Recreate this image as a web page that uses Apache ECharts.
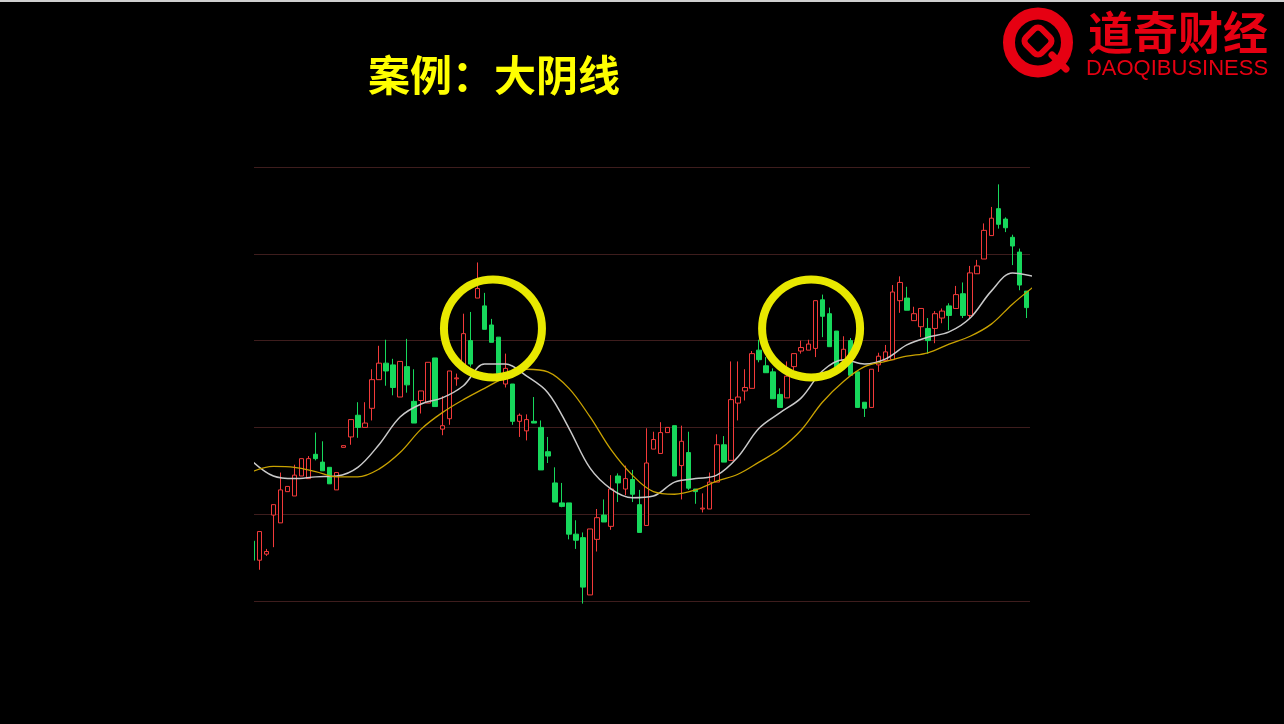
<!DOCTYPE html>
<html>
<head>
<meta charset="utf-8">
<title>案例：大阴线</title>
<script src="https://cdn.jsdelivr.net/npm/echarts@6/dist/echarts.min.js"></script>
<style>
  html, body { margin: 0; padding: 0; background: #000; }
  #chart { width: 1284px; height: 724px; }
</style>
</head>
<body>
<div id="chart"></div>
<script>
// Daily candles, day -1 (partly off the left edge) through day 109
const firstDay = -1;
const opens = [
  10.69, 10.47, 10.54, 10.99, 10.90, 11.26, 11.21, 11.44, 11.41, 11.69, 11.60,
  11.54, 11.28, 11.77, 11.89, 12.14, 12.00, 12.22, 12.55, 12.74, 12.72,
  12.35, 12.70, 12.30, 12.31, 12.28, 12.80, 11.98, 12.10, 12.56, 12.67,
  13.00, 13.49, 13.40, 13.18, 13.04, 12.50, 12.50, 12.07, 11.96, 12.07,
  12.00, 11.72, 11.36, 11.13, 11.13, 10.77, 10.73, 10.07, 10.71, 10.99,
  10.86, 11.44, 11.29, 11.40, 11.11, 10.87, 11.75, 11.70, 11.94, 12.02,
  11.56, 11.71, 11.29, 11.06, 11.06, 11.37, 11.80, 11.62, 12.28, 12.42,
  12.45, 12.89, 12.71, 12.64, 12.38, 12.34, 12.70, 12.88, 12.89, 12.91,
  13.47, 13.31, 13.11, 12.77, 13.00, 12.64, 12.29, 12.23, 12.72, 12.77,
  12.78, 13.46, 13.49, 13.23, 13.16, 13.14, 13.14, 13.26, 13.40, 13.37,
  13.54, 13.29, 13.77, 13.94, 14.21, 14.52, 14.40, 14.19, 14.02, 13.57
];
const closes = [
  10.47, 10.80, 10.57, 11.11, 11.28, 11.32, 11.45, 11.64, 11.64, 11.64, 11.50,
  11.35, 11.48, 11.79, 12.09, 12.00, 12.05, 12.55, 12.74, 12.65, 12.46,
  12.76, 12.49, 12.05, 12.42, 12.75, 12.24, 12.02, 12.65, 12.57, 13.08,
  12.73, 13.60, 13.13, 12.98, 12.62, 12.68, 12.07, 12.14, 12.09, 12.05,
  11.51, 11.67, 11.14, 11.09, 10.77, 10.70, 10.16, 10.83, 10.96, 10.91,
  11.29, 11.36, 11.41, 11.23, 10.79, 11.59, 11.86, 11.94, 12.00, 11.44,
  11.84, 11.30, 11.26, 11.07, 11.37, 11.80, 11.60, 12.32, 12.35, 12.46,
  12.85, 12.78, 12.63, 12.33, 12.23, 12.59, 12.85, 12.92, 12.96, 13.46,
  13.28, 12.93, 12.64, 12.90, 12.60, 12.23, 12.22, 12.67, 12.82, 12.87,
  13.56, 13.67, 13.35, 13.31, 13.37, 13.00, 13.31, 13.34, 13.29, 13.53,
  13.29, 13.78, 13.86, 14.27, 14.41, 14.34, 14.30, 14.09, 13.64, 13.38
];
const lows = [
  10.45, 10.36, 10.52, 10.62, 10.90, 11.26, 11.21, 11.44, 11.41, 11.62, 11.50,
  11.35, 11.28, 11.77, 11.80, 11.88, 12.00, 12.08, 12.55, 12.48, 12.37,
  12.35, 12.40, 12.05, 12.16, 12.28, 12.24, 11.91, 12.03, 12.48, 12.67,
  12.70, 13.49, 13.13, 12.98, 12.59, 12.46, 12.03, 11.89, 11.85, 12.05,
  11.51, 11.59, 11.14, 11.08, 10.71, 10.60, 9.97, 10.07, 10.57, 10.91,
  10.82, 11.14, 11.22, 11.14, 10.79, 10.87, 11.75, 11.70, 11.94, 11.44,
  11.17, 11.28, 11.12, 11.02, 11.06, 11.37, 11.60, 11.62, 12.08, 12.31,
  12.45, 12.75, 12.63, 12.33, 12.23, 12.34, 12.66, 12.85, 12.89, 12.81,
  13.04, 12.93, 12.64, 12.77, 12.60, 12.23, 12.12, 12.23, 12.64, 12.77,
  12.78, 13.32, 13.35, 13.23, 13.04, 12.85, 12.97, 13.20, 13.12, 13.37,
  13.26, 13.25, 13.77, 13.94, 14.21, 14.29, 14.25, 13.87, 13.58, 13.26
];
const highs = [
  10.73, 10.80, 10.60, 11.11, 11.48, 11.32, 11.57, 11.64, 11.67, 11.94, 11.84,
  11.54, 11.48, 11.79, 12.09, 12.29, 12.29, 12.67, 12.94, 13.01, 12.79,
  12.76, 13.02, 12.67, 12.42, 12.75, 12.80, 12.36, 12.65, 12.62, 13.31,
  13.33, 13.90, 13.55, 13.25, 13.04, 12.85, 12.50, 12.16, 12.15, 12.35,
  12.08, 11.89, 11.54, 11.36, 11.13, 10.93, 10.79, 10.83, 11.06, 11.17,
  11.45, 11.47, 11.56, 11.51, 11.28, 11.99, 11.95, 12.06, 12.00, 12.02,
  12.02, 11.95, 11.29, 11.24, 11.48, 11.92, 11.90, 12.76, 12.76, 12.67,
  12.88, 13.01, 12.81, 12.68, 12.45, 12.76, 12.85, 13.00, 13.01, 13.46,
  13.53, 13.38, 13.11, 13.05, 13.03, 12.64, 12.29, 12.67, 12.86, 12.95,
  13.64, 13.74, 13.62, 13.39, 13.37, 13.26, 13.34, 13.37, 13.43, 13.63,
  13.67, 13.86, 13.93, 14.35, 14.54, 14.80, 14.42, 14.22, 14.06, 13.57
];

// Moving averages, read every third trading day
const maDays = [
  -1, 2, 5, 8, 11, 14, 17, 20, 23, 26, 29, 32, 35, 38, 41, 44, 47, 50, 53,
  56, 59, 62, 65, 68, 71, 74, 77, 80, 83, 86, 89, 92, 95, 98, 101, 104, 107, 110
];
const maShort = [
  11.61, 11.44, 11.41, 11.43, 11.44, 11.54, 11.80, 12.12, 12.27, 12.34, 12.48,
  12.73, 12.73, 12.59, 12.40, 11.99, 11.53, 11.29, 11.19, 11.21, 11.37, 11.41,
  11.45, 11.66, 11.99, 12.17, 12.34, 12.65, 12.78, 12.73, 12.79, 12.95, 13.04,
  13.10, 13.26, 13.57, 13.78, 13.74
];
const maLong = [
  11.49, 11.55, 11.54, 11.49, 11.43, 11.43, 11.52, 11.71, 11.98, 12.17, 12.32,
  12.45, 12.58, 12.67, 12.64, 12.45, 12.12, 11.74, 11.45, 11.26, 11.23, 11.28,
  11.38, 11.46, 11.60, 11.75, 11.97, 12.29, 12.53, 12.70, 12.76, 12.82, 12.86,
  12.96, 13.05, 13.19, 13.42, 13.62
];

// The two highlighted tops (day, price)
const highlightDays = [33.2, 78.4];
const highlightPrices = [13.14, 13.14];

const priceTicks = { min: 10, max: 15, step: 1 };

const candleData = opens.map((o, i) => [firstDay + i, o, closes[i], lows[i], highs[i]]);
const shortLine = maDays.map((d, i) => [d, maShort[i]]);
const longLine = maDays.map((d, i) => [d, maLong[i]]);
const rings = highlightDays.map((d, i) => [d, highlightPrices[i]]);

const RED = '#f23a3a';
const GREEN = '#17d85c';
const LOGO_RED = '#e60012';

const GRID = { left: 254, right: 254, top: 167, bottom: 123 };

const chart = echarts.init(document.getElementById('chart'), null, { renderer: 'canvas' });

chart.setOption({
  backgroundColor: '#000',
  animation: false,
  grid: { left: GRID.left, right: GRID.right, top: GRID.top, bottom: GRID.bottom, containLabel: false },
  xAxis: {
    type: 'value',
    min: -0.75,
    max: 109.5,
    show: false,
    splitLine: { show: false }
  },
  yAxis: {
    type: 'value',
    min: priceTicks.min,
    max: priceTicks.max,
    interval: priceTicks.step,
    axisLine: { show: false },
    axisTick: { show: false },
    axisLabel: { show: false },
    splitLine: { show: true, lineStyle: { color: '#3e1d1d', width: 1 } }
  },
  series: [
    {
      name: 'K',
      type: 'candlestick',
      data: candleData,
      barWidth: 5,
      clip: true,
      itemStyle: {
        color: '#000',
        color0: GREEN,
        borderColor: RED,
        borderColor0: GREEN,
        borderWidth: 1
      },
      z: 3
    },
    {
      name: 'MA short',
      type: 'line',
      data: shortLine,
      smooth: 0.35,
      showSymbol: false,
      clip: true,
      lineStyle: { color: '#c9c9c9', width: 1.5 },
      z: 4
    },
    {
      name: 'MA long',
      type: 'line',
      data: longLine,
      smooth: 0.35,
      showSymbol: false,
      clip: true,
      lineStyle: { color: '#c9a200', width: 1.3 },
      z: 4
    },
    {
      name: 'rings',
      type: 'scatter',
      data: rings,
      symbol: 'circle',
      symbolSize: 98,
      silent: true,
      itemStyle: { color: 'rgba(0,0,0,0)', borderColor: '#e8e800', borderWidth: 8, opacity: 1 },
      z: 6
    }
  ],
  graphic: [
    // mask the part of the first candle that falls left of the plot area
    { type: 'rect', z: 100, left: 0, top: GRID.top - 10, shape: { width: GRID.left, height: 460 }, style: { fill: '#000' } },
    { type: 'rect', left: 0, top: 0, shape: { width: 1284, height: 2 }, style: { fill: '#cfcfcf' } },
    {
      type: 'text', x: 494, y: 75,
      style: {
        text: '案例：大阴线',
        fill: '#ffff00',
        font: 'bold 42px "Noto Sans CJK SC", sans-serif',
        textAlign: 'center',
        textVerticalAlign: 'middle'
      }
    },
    // logo mark
    { type: 'circle', shape: { cx: 1038, cy: 42.5, r: 29 }, style: { fill: 'none', stroke: LOGO_RED, lineWidth: 12 } },
    {
      type: 'rect', x: 1038, y: 41, rotation: Math.PI / 4,
      shape: { x: -11, y: -11, width: 22, height: 22, r: 5 },
      style: { fill: 'none', stroke: LOGO_RED, lineWidth: 6 }
    },
    { type: 'line', shape: { x1: 1052, y1: 55, x2: 1066, y2: 69 }, style: { stroke: LOGO_RED, lineWidth: 7, lineCap: 'round' } },
    {
      type: 'text', x: 1178, y: 33,
      style: {
        text: '道奇财经',
        fill: LOGO_RED,
        font: 'bold 45px "Noto Sans CJK SC", sans-serif',
        textAlign: 'center',
        textVerticalAlign: 'middle'
      }
    },
    {
      type: 'text', x: 1177, y: 69,
      style: {
        text: 'DAOQIBUSINESS',
        fill: LOGO_RED,
        font: '22px "Liberation Sans", sans-serif',
        textAlign: 'center',
        textVerticalAlign: 'middle'
      }
    }
  ]
});
</script>
</body>
</html>
